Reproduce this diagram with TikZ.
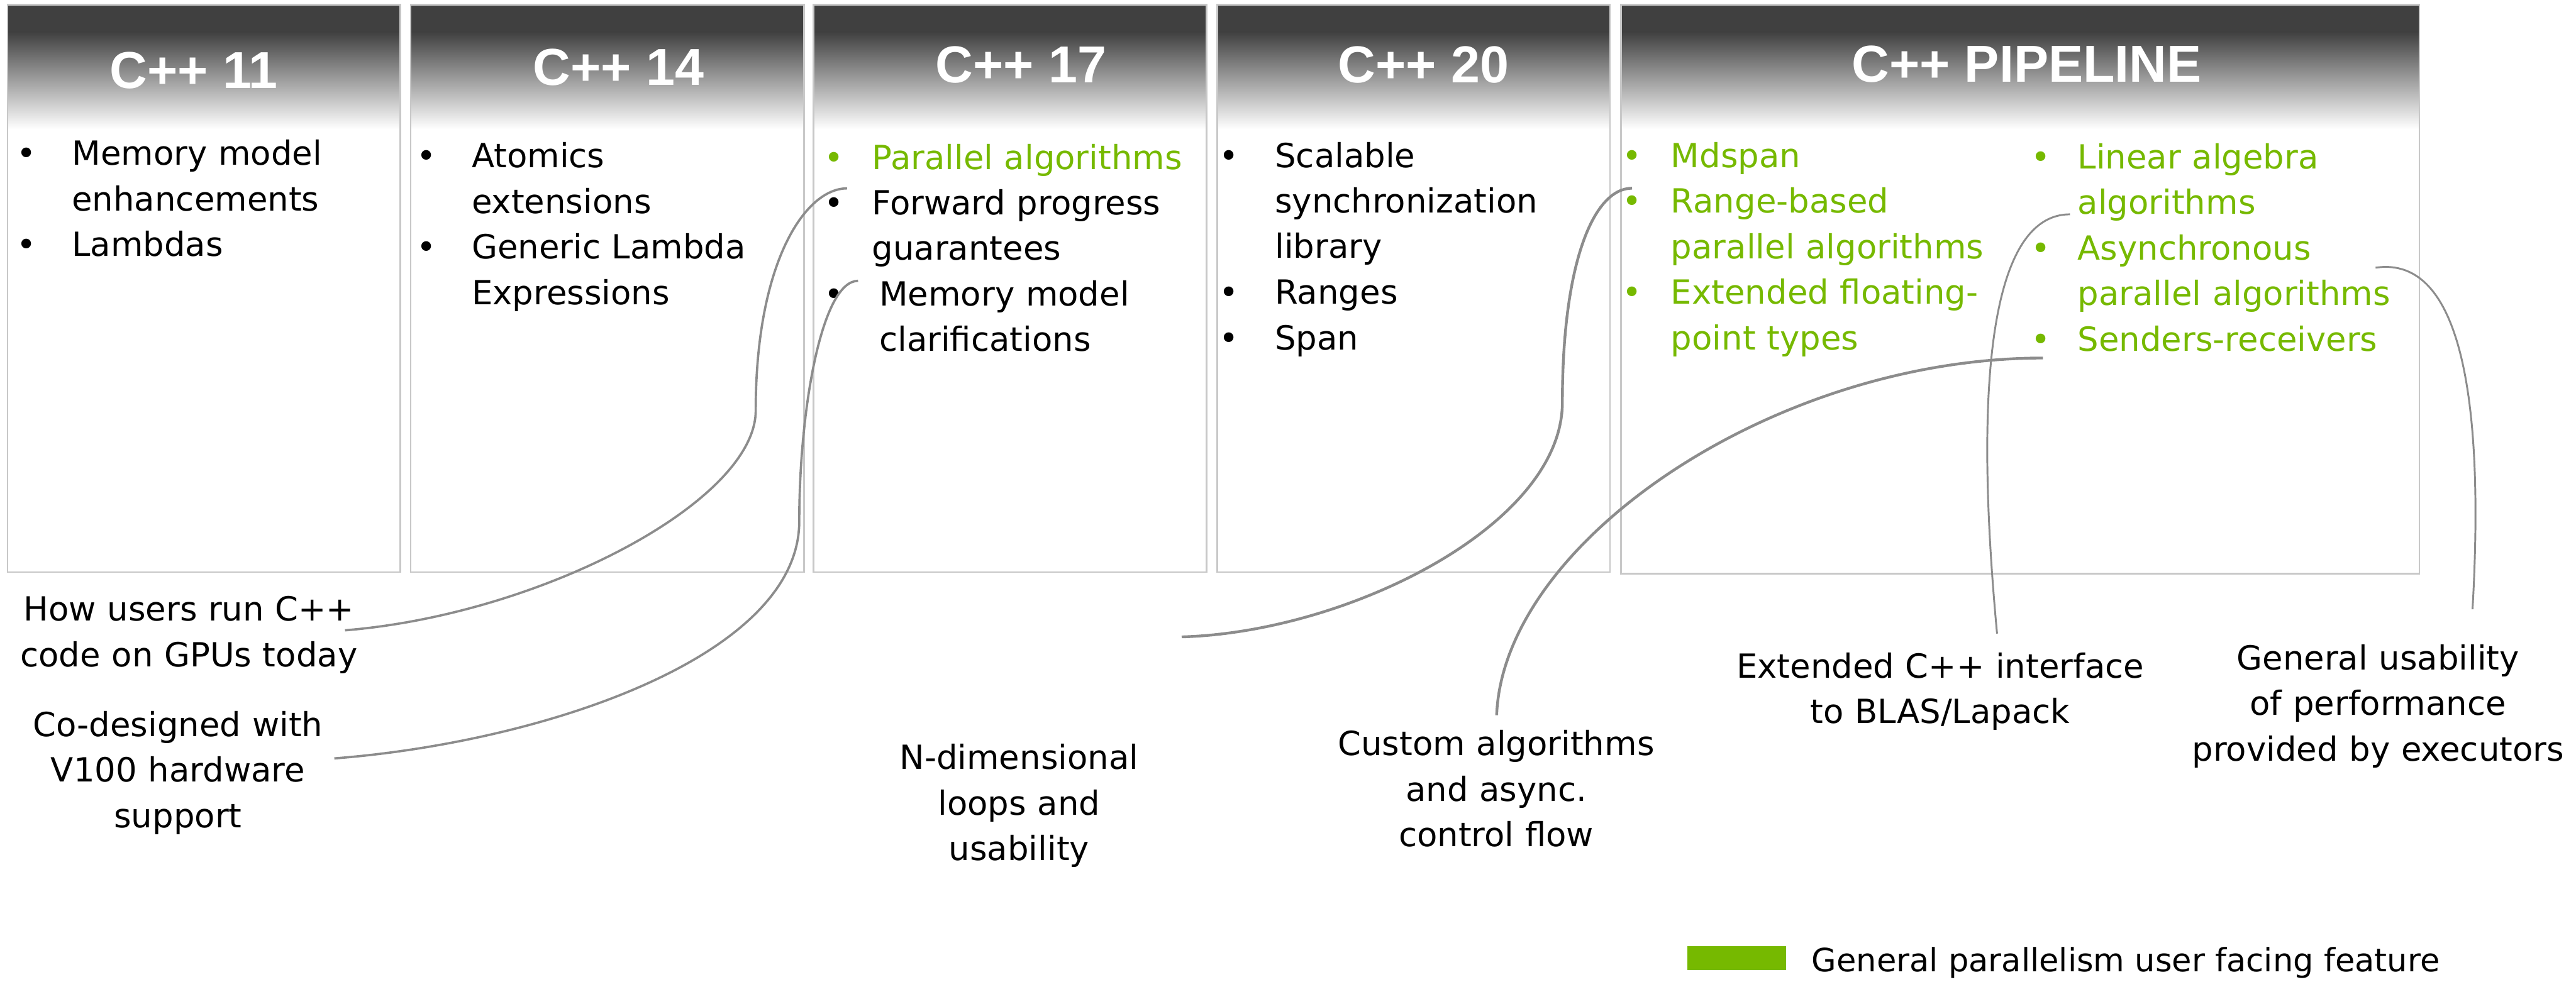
\documentclass[tikz,border=0pt]{standalone}
\usepackage{fontspec}
\setmainfont{DejaVu Sans}
\newfontfamily\titlefont{Liberation Sans}
\usetikzlibrary{
    positioning
}
\definecolor{nvgreen}{RGB}{118,185,0}
\definecolor{headgray}{RGB}{64,64,64}
\definecolor{framegray}{RGB}{200,200,200}
\definecolor{wiregray}{RGB}{140,140,140}
\tikzset{
    every node/.style={
        inner sep=0pt
    },
    era/.style={
        draw=framegray,
        line width=0.75pt
    },
    title/.style={
        anchor=base,
        text=white,
        font=\titlefont\bfseries\fontsize{22.5}{26}\selectfont
    },
    item/.style={
        anchor=base west,
        align=left,
        text width=7cm,
        font=\fontsize{14.4}{19.7}\selectfont
    },
    dot/.style={
        anchor=base,
        font=\fontsize{14.4}{19.7}\selectfont
    },
    note/.style={
        anchor=base,
        align=center,
        text width=7cm,
        font=\fontsize{14.4}{19.7}\selectfont
    },
    wire/.style={
        draw=wiregray,
        line width=1pt
    }
}

\begin{document}
\begin{tikzpicture}[
    x=0.025cm,
    y=-0.025cm
]
    \useasboundingbox (0,0) rectangle (1568,597.7);

    % Cabeceras
    \fill[headgray] (4.6,3) rectangle (243.7,19.5);
    \shade[top color=headgray, bottom color=white] (4.6,19.5) rectangle (243.7,78.6);
    \fill[headgray] (250,3) rectangle (489.3,19.5);
    \shade[top color=headgray, bottom color=white] (250,19.5) rectangle (489.3,78.6);
    \fill[headgray] (495.2,3) rectangle (734.4,19.5);
    \shade[top color=headgray, bottom color=white] (495.2,19.5) rectangle (734.4,78.6);
    \fill[headgray] (740.9,3) rectangle (980,19.5);
    \shade[top color=headgray, bottom color=white] (740.9,19.5) rectangle (980,78.6);
    \fill[headgray] (986.6,3) rectangle (1472.7,19.5);
    \shade[top color=headgray, bottom color=white] (986.6,19.5) rectangle (1472.7,78.6);

    % Cajas
    \draw[era] (4.6,3) rectangle (243.7,348.4);
    \draw[era] (250,3) rectangle (489.3,348.4);
    \draw[era] (495.2,3) rectangle (734.4,348.4);
    \draw[era] (740.9,3) rectangle (980,348.4);
    \draw[era] (986.6,3) rectangle (1472.7,349.3);

    % Titulos
    \node[title] (h11) at (118,53.6)    {C++ 11};
    \node[title] (h14) at (376.5,52)    {C++ 14};
    \node[title] (h17) at (621.5,50.5)  {C++ 17};
    \node[title] (h20) at (866.5,50.5)  {C++ 20};
    \node[title] (hpl) at (1233.7,49.8) {C++ PIPELINE};

    % C++ 11
    \node[dot]  (d11a) at (16,100.6)   {•};
    \node[item] (mem)  at (43.5,100.6) {Memory model\\enhancements};
    \node[dot]  (d11b) at (16,156.1)   {•};
    \node[item] (lam)  at (43.5,156.1) {Lambdas};

    % C++ 14
    \node[dot]  (d14a) at (259.5,102.1) {•};
    \node[item] (atom) at (286.9,102.1) {Atomics\\extensions};
    \node[dot]  (d14b) at (259.5,157.6) {•};
    \node[item] (glam) at (286.9,157.6) {Generic Lambda\\Expressions};

    % C++ 17
    \node[dot, text=nvgreen]  (d17a) at (507.5,103)    {•};
    \node[item, text=nvgreen] (par)  at (530.5,103)    {Parallel algorithms};
    \node[dot]                (d17b) at (507.5,130.75) {•};
    \node[item]               (fwd)  at (530.5,130.75) {Forward progress\\guarantees};
    \node[dot]                (d17c) at (507.5,186.25) {•};
    \node[item]               (mmc)  at (535,186.25)   {Memory model\\clarifications};

    % C++ 20
    \node[dot]  (d20a) at (748,101.9)    {•};
    \node[item] (sync) at (775.8,101.9)  {Scalable\\synchronization\\library};
    \node[dot]  (d20b) at (748,185.15)   {•};
    \node[item] (rng)  at (775.8,185.15) {Ranges};
    \node[dot]  (d20c) at (748,212.9)    {•};
    \node[item] (span) at (775.8,212.9)  {Span};

    % C++ PIPELINE
    \node[dot, text=nvgreen]  (dpa) at (993.5,101.9)   {•};
    \node[item, text=nvgreen] (mds) at (1016.8,101.9)  {Mdspan};
    \node[dot, text=nvgreen]  (dpb) at (993.5,129.65)  {•};
    \node[item, text=nvgreen] (rba) at (1016.8,129.65) {Range-based\\parallel algorithms};
    \node[dot, text=nvgreen]  (dpc) at (993.5,185.15)  {•};
    \node[item, text=nvgreen] (efp) at (1016.8,185.15) {Extended floating-\\point types};
    \node[dot, text=nvgreen]  (dpd) at (1242.3,102.8)  {•};
    \node[item, text=nvgreen] (lin) at (1264.4,102.8)  {Linear algebra\\algorithms};
    \node[dot, text=nvgreen]  (dpe) at (1242.3,158.3)  {•};
    \node[item, text=nvgreen] (apa) at (1264.4,158.3)  {Asynchronous\\parallel algorithms};
    \node[dot, text=nvgreen]  (dpf) at (1242.3,213.8)  {•};
    \node[item, text=nvgreen] (snd) at (1264.4,213.8)  {Senders-receivers};

    % Notas
    \node[note] (how)  at (115,378.2)    {How users run C++\\code on GPUs today};
    \node[note] (v100) at (108.3,448.5)  {Co-designed with\\V100 hardware\\support};
    \node[note] (ndim) at (620.3,468.5)  {N-dimensional\\loops and\\usability};
    \node[note] (cust) at (910.7,460)    {Custom algorithms\\and async.\\control flow};
    \node[note] (blas) at (1181,412.7)   {Extended C++ interface\\to BLAS/Lapack};
    \node[note] (exec) at (1447.5,407.9) {General usability\\of performance\\provided by executors};

    % Extremos de las lineas
    \coordinate (w1a) at (210,383.8);
    \coordinate (w1b) at (460,250);
    \coordinate (w1c) at (515.6,114.7);
    \coordinate (w2a) at (203.5,461.8);
    \coordinate (w2b) at (486.5,317.5);
    \coordinate (w2c) at (522.3,171);
    \coordinate (w3a) at (719.3,387.8);
    \coordinate (w3b) at (951,245);
    \coordinate (w3c) at (993.4,114.6);
    \coordinate (w4a) at (911,435.5);
    \coordinate (w4b) at (1243.5,218);
    \coordinate (w5a) at (1215.6,385.8);
    \coordinate (w5b) at (1260,130.5);
    \coordinate (w6a) at (1505,371);
    \coordinate (w6b) at (1446,163);

    % Lineas
    \draw[wire] (w1a) .. controls +(120,-9.8) and +(0,55) .. (w1b)
                      .. controls +(0,-90) and +(-25.6,0) .. (w1c);
    \draw[wire] (w2a) .. controls +(126.5,-9.8) and +(0,82.5) .. (w2b)
                      .. controls +(0,-67.5) and +(-22.3,0) .. (w2c);
    \draw[wire, line width=1.2pt] (w3a) .. controls +(100.7,-2.8) and +(0,75) .. (w3b)
                      .. controls +(0,-85) and +(-23.4,0) .. (w3c);
    \draw[wire, line width=1.2pt] (w4a) .. controls +(4,-105.5) and +(-163.5,0) .. (w4b);
    \draw[wire, line width=0.8pt] (w5a) .. controls +(-15.6,-165.8) and +(-45,0) .. (w5b);
    \draw[wire, line width=0.8pt] (w6a) .. controls +(7,-121) and +(54,-8) .. (w6b);

    % Leyenda
    \fill[nvgreen] (1027,576.2) rectangle (1087,590.7);
    \node[anchor=base west, font=\fontsize{13.9}{17}\selectfont] (key) at (1102.5,591.8)
        {General parallelism user facing feature};

\end{tikzpicture}
\end{document}
